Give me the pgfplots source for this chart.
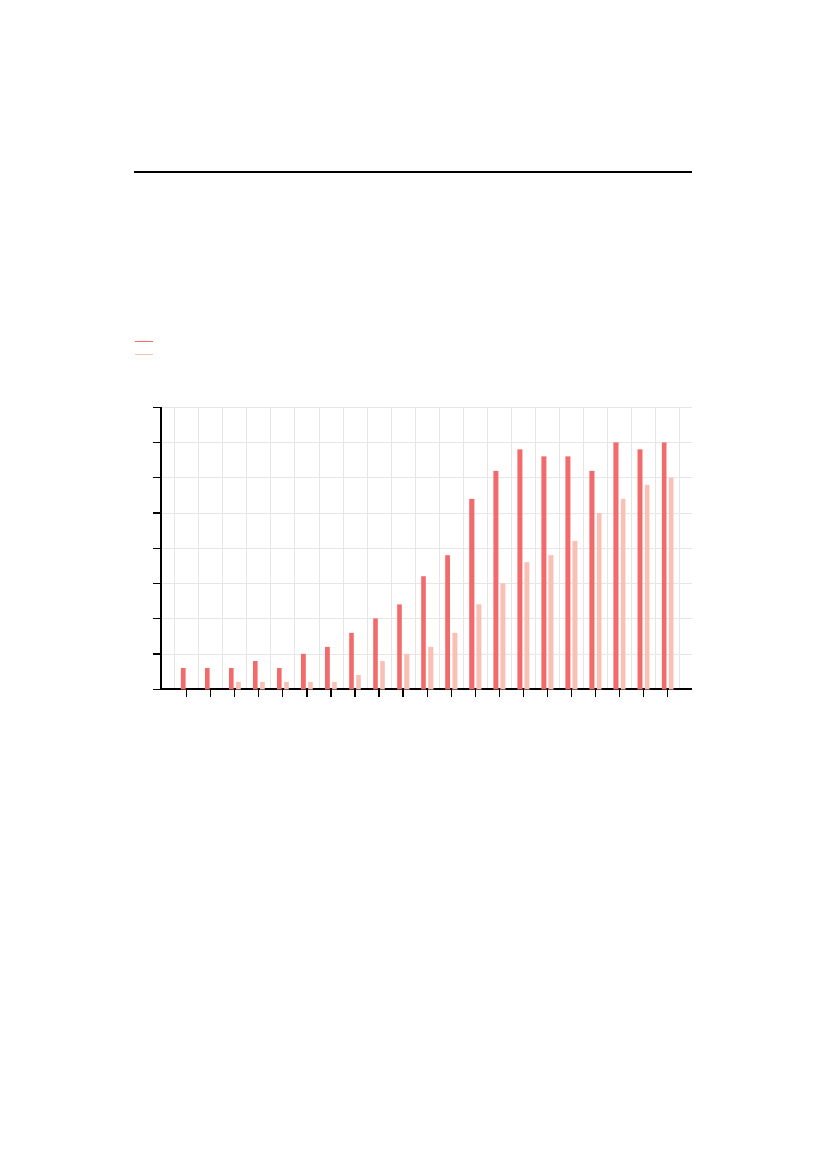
\documentclass[border=0pt]{standalone}
\usepackage{pgfplots}
\pgfplotsset{compat=1.18}
\definecolor{barA}{HTML}{F26A6A}
\definecolor{barB}{HTML}{F9C0B5}
\definecolor{gridc}{HTML}{E6E6E6}

\begin{document}
\begin{tikzpicture}
  % page frame, A4 proportions as in the reference
  \path (0,0) rectangle (210mm,297mm);
  % heading rule
  \draw[line width=0.55mm] (34.0mm,253.2mm) -- (175.7mm,253.2mm);
  \begin{axis}[
      at={(40.9mm,121.9mm)}, anchor=south west,
      scale only axis,
      width=134.8mm, height=71.6mm,
      ybar, bar width=1.1mm,
      xmin=-1.07, xmax=21,
      ymin=0, ymax=40,
      xtick={0,...,20},
      minor xtick={-0.5,0.5,...,20.5},
      ytick={0,5,...,40},
      xticklabels={}, yticklabels={},
      axis lines=left,
      axis line style={-, line width=0.45mm},
      tick align=outside,
      major tick length=2mm,
      minor tick length=0pt,
      tick style={black, line width=0.3mm},
      ymajorgrids, xminorgrids,
      grid style={gridc, line width=0.2mm},
      minor grid style={gridc, line width=0.2mm},
      legend style={draw=none, fill=none, inner sep=0pt, outer sep=0pt,
        at={(axis description cs:-0.0508,1.257)}, anchor=north west,
        nodes={inner sep=0pt, minimum height=3.3mm}, row sep=0pt},
      legend image code/.code={\draw[#1, draw opacity=1, line width=1pt] (0mm,0mm) -- (4.6mm,0mm);},
    ]
    \addplot[fill=barA, draw=barA, draw opacity=0.4, line width=0.4pt]
      coordinates {(0,3) (1,3) (2,3) (3,4) (4,3) (5,5) (6,6) (7,8) (8,10) (9,12)
        (10,16) (11,19) (12,27) (13,31) (14,34) (15,33) (16,33) (17,31) (18,35)
        (19,34) (20,35)};
    \addlegendentry{}
    \addplot[fill=barB, draw=barB, draw opacity=0.4, line width=0.4pt]
      coordinates {(2,1) (3,1) (4,1) (5,1) (6,1) (7,2) (8,4) (9,5)
        (10,6) (11,8) (12,12) (13,15) (14,18) (15,19) (16,21) (17,25) (18,27)
        (19,29) (20,30)};
    \addlegendentry{}
  \end{axis}
\end{tikzpicture}
\end{document}
